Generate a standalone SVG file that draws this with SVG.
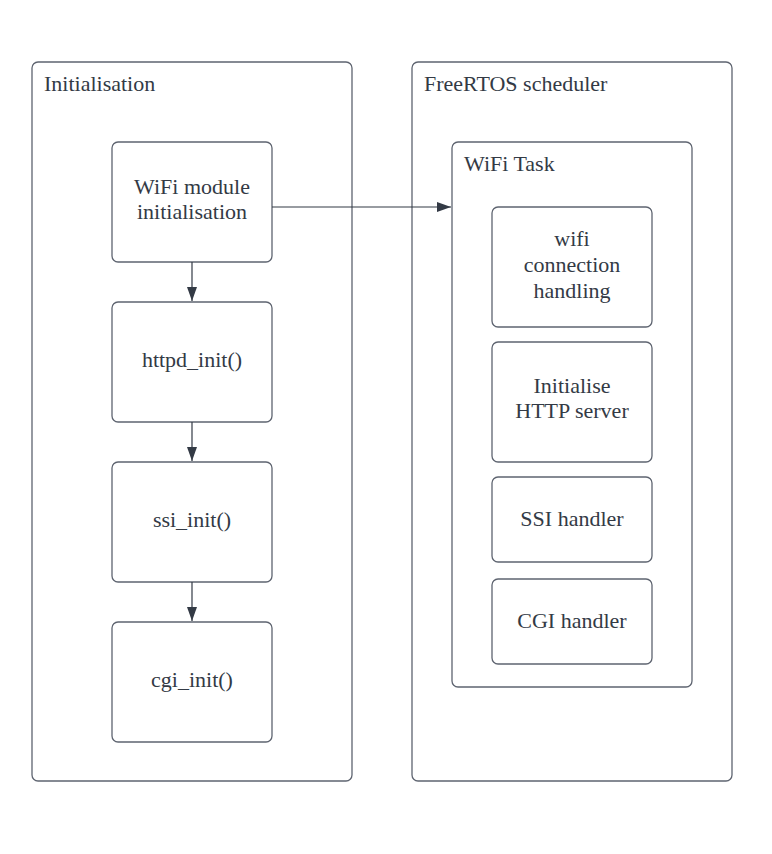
<svg xmlns="http://www.w3.org/2000/svg" width="772" height="854" viewBox="0 0 772 854">
<defs>
<style>
.box{fill:#fff;stroke:#5e6470;stroke-width:1.3}
.t{font-family:"Liberation Serif","Times New Roman",serif;font-size:22px;fill:#333a45}
.c{text-anchor:middle}
.ln{stroke:#333a45;stroke-width:1.2;fill:none}
</style>
<marker id="ah" markerWidth="16" markerHeight="12" refX="14" refY="5" orient="auto" markerUnits="userSpaceOnUse">
<path d="M0,0 L14,5 L0,10 Z" fill="#333a45"/>
</marker>
</defs>
<rect width="772" height="854" fill="#fff"/>
<g id="initialisation">
<rect class="box" x="32" y="62" width="320" height="719" rx="6"/>
<text class="t" x="44" y="91">Initialisation</text>
</g>
<g id="freertos">
<rect class="box" x="412" y="62" width="320" height="719" rx="6"/>
<text class="t" x="424" y="91">FreeRTOS scheduler</text>
</g>
<g id="wifitask">
<rect class="box" x="452" y="142" width="240" height="545" rx="6"/>
<text class="t" x="464" y="171">WiFi Task</text>
</g>
<g id="wifi-init">
<rect class="box" x="112" y="142" width="160" height="120" rx="6"/>
<text class="t c" x="192" y="194">WiFi module</text>
<text class="t c" x="192" y="219">initialisation</text>
</g>
<g id="httpd">
<rect class="box" x="112" y="302" width="160" height="120" rx="6"/>
<text class="t c" x="192" y="367">httpd_init()</text>
</g>
<g id="ssi">
<rect class="box" x="112" y="462" width="160" height="120" rx="6"/>
<text class="t c" x="192" y="527">ssi_init()</text>
</g>
<g id="cgi">
<rect class="box" x="112" y="622" width="160" height="120" rx="6"/>
<text class="t c" x="192" y="687">cgi_init()</text>
</g>
<g id="wifi-conn">
<rect class="box" x="492" y="207" width="160" height="120" rx="6"/>
<text class="t c" x="572" y="246">wifi</text>
<text class="t c" x="572" y="272">connection</text>
<text class="t c" x="572" y="298">handling</text>
</g>
<g id="http-server">
<rect class="box" x="492" y="342" width="160" height="120" rx="6"/>
<text class="t c" x="572" y="393">Initialise</text>
<text class="t c" x="572" y="418">HTTP server</text>
</g>
<g id="ssi-handler">
<rect class="box" x="492" y="477" width="160" height="85" rx="6"/>
<text class="t c" x="572" y="526">SSI handler</text>
</g>
<g id="cgi-handler">
<rect class="box" x="492" y="579" width="160" height="85" rx="6"/>
<text class="t c" x="572" y="628">CGI handler</text>
</g>
<g id="connectors">
<line class="ln" x1="192" y1="262" x2="192" y2="301" marker-end="url(#ah)"/>
<line class="ln" x1="192" y1="422" x2="192" y2="461" marker-end="url(#ah)"/>
<line class="ln" x1="192" y1="582" x2="192" y2="621" marker-end="url(#ah)"/>
<line class="ln" x1="272" y1="207" x2="451" y2="207" marker-end="url(#ah)"/>
</g>
</svg>
